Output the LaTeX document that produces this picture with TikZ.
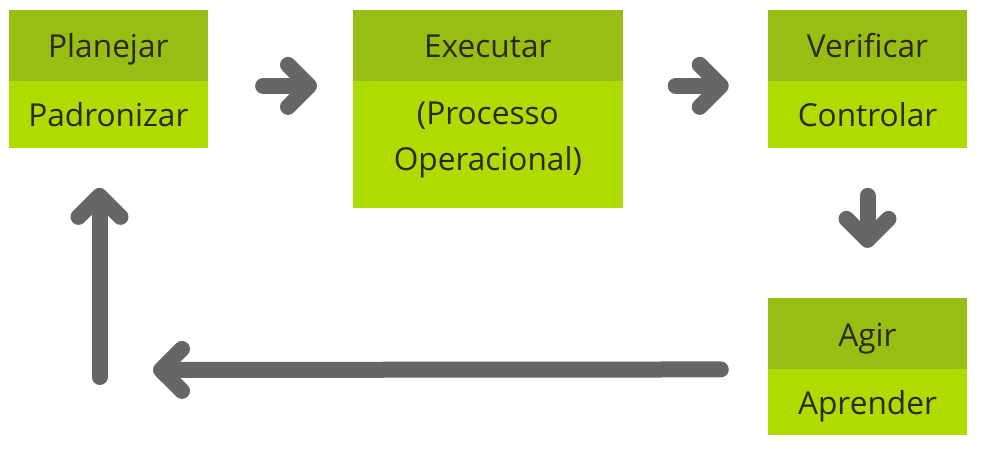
\documentclass[tikz,border=0pt]{standalone}
\usepackage{fontspec}
\setmainfont{Open Sans}
\usepackage{xcolor}
\usepackage{tikz}
\usetikzlibrary{positioning, calc, arrows.meta}

\definecolor{verdeesc}{HTML}{98BE14}
\definecolor{verdecla}{HTML}{B0DB00}
\definecolor{cinza}{HTML}{666666}
\definecolor{texto}{HTML}{2A2A1E}

\tikzset{
	fase/.style={rectangle, fill=verdeesc, text=texto, minimum width=3.99cm, minimum height=1.42cm,
		inner sep=0pt, outer sep=0pt, font=\fontsize{18}{26}\selectfont, text height=0.5cm, text depth=0cm},
	acao/.style={fase, fill=verdecla, minimum height=1.34cm},
	seta/.style={draw=cinza, line width=0.32cm, line cap=round,
		-{Straight Barb[round, length=0.42cm, width=0.84cm]}},
}

\begin{document}
\begin{tikzpicture}
						\useasboundingbox (0,0) rectangle (20.1,9);
						\node[fase] (pla) at (2.167, 8.093) {Planejar};
						\node[acao, below=0pt of pla] (pad) {Padronizar};
						\node[fase, minimum width=5.394cm] (exe) at (9.757, 8.093) {Executar};
						\node[acao, minimum width=5.394cm, minimum height=2.546cm, align=center, text height=1.4cm, text depth=0.36cm, below=0pt of exe] (proc) {(Processo\\Operacional)};
						\node[fase] (ver) at (17.35, 8.093) {Verificar};
						\node[acao, below=0pt of ver] (con) {Controlar};
						\node[fase, minimum height=1.43cm] (agi) at (17.35, 2.327) {Agir};
						\node[acao, minimum height=1.31cm, below=0pt of agi] (apr) {Aprender};
						\coordinate (canto) at (1.99, 1.6);

						\draw[seta, shorten <=1.1cm, shorten >=0.72cm] ([yshift=-0.1cm]pad.north east) -- ([yshift=-0.1cm]proc.north west);
						\draw[seta, shorten <=1.06cm, shorten >=0.78cm] ([yshift=-0.1cm]proc.north east) -- ([yshift=-0.1cm]con.north west);
						\draw[seta, shorten <=0.96cm, shorten >=1.0cm] (con.south) -- (agi.north);
						\draw[seta, shorten <=0.94cm, shorten >=1.07cm] (apr.north west) -- (canto);
						\draw[seta, shorten <=-0.14cm, shorten >=0.8cm] (canto) -- (canto |- pad.south);

					\end{tikzpicture}
\end{document}
